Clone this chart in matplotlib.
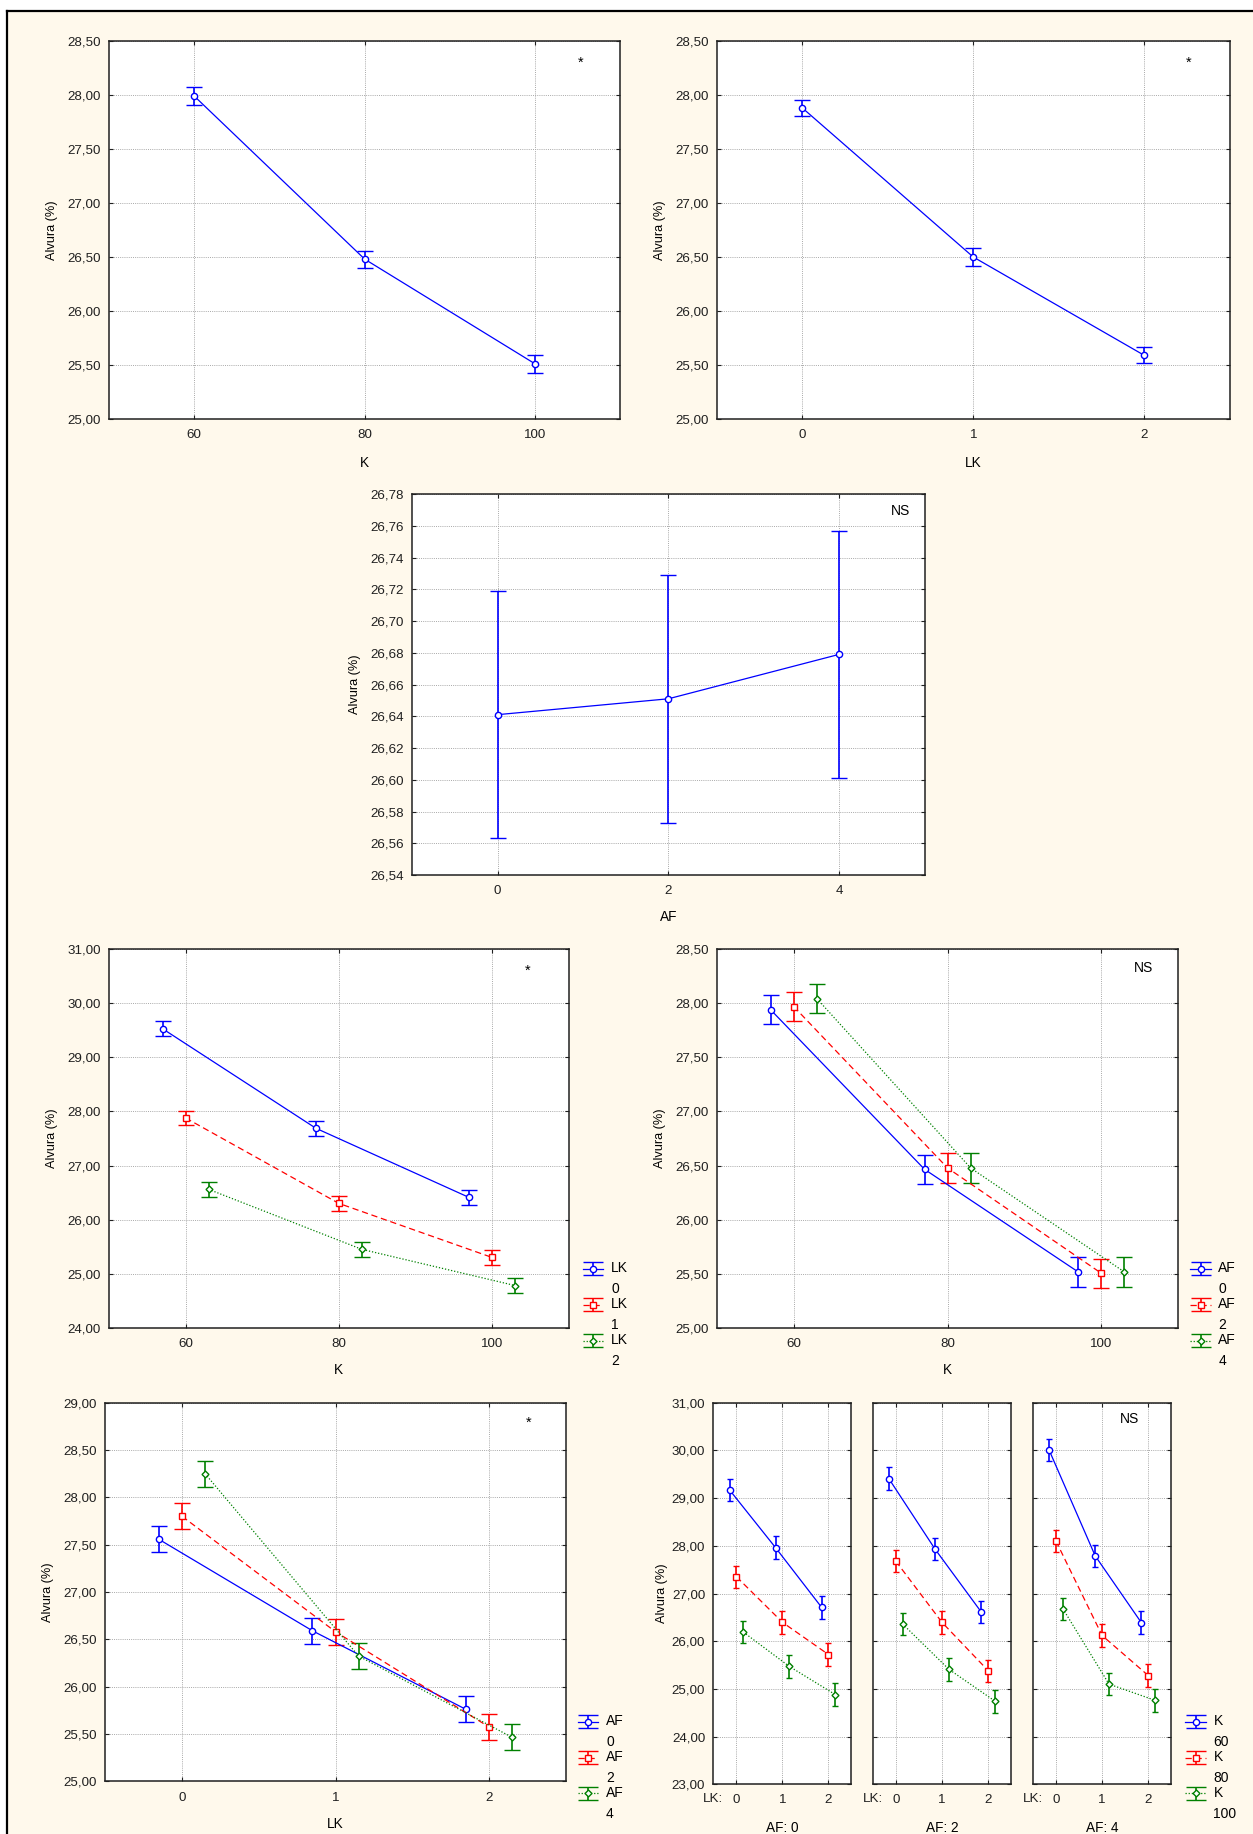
import numpy as np
import matplotlib
matplotlib.use("Agg")
import matplotlib.pyplot as plt
from matplotlib.lines import Line2D
from matplotlib.patches import Rectangle
from matplotlib.ticker import FuncFormatter
from matplotlib.legend_handler import HandlerErrorbar

plt.rcParams["font.family"] = ["Liberation Sans", "DejaVu Sans"]

# ---------------- data ----------------
k_levels = [60, 80, 100]
lk_levels = [0, 1, 2]
af_levels = [0, 2, 4]

# main effects: mean whiteness and half-width of the interval
mean_by_k = [27.99, 26.48, 25.51]
err_by_k = [0.08, 0.08, 0.08]
mean_by_lk = [27.88, 26.50, 25.59]
err_by_lk = [0.075, 0.08, 0.075]
mean_by_af = [26.641, 26.651, 26.679]
err_by_af = [0.078, 0.078, 0.078]

# K x LK interaction (rows: LK 0, 1, 2; columns: K 60, 80, 100)
k_by_lk = [[29.53, 27.69, 26.41],
           [27.88, 26.30, 25.30],
           [26.56, 25.45, 24.78]]
err_k_by_lk = 0.135

# K x AF interaction (rows: AF 0, 2, 4; columns: K 60, 80, 100)
k_by_af = [[27.94, 26.465, 25.515],
           [27.97, 26.477, 25.503],
           [28.044, 26.477, 25.515]]
err_k_by_af = 0.135

# LK x AF interaction (rows: AF 0, 2, 4; columns: LK 0, 1, 2)
lk_by_af = [[27.556, 26.59, 25.76],
            [27.80, 26.58, 25.574],
            [28.25, 26.324, 25.465]]
err_lk_by_af = 0.137

# K x LK x AF (per AF level; rows: K 60, 80, 100; columns: LK 0, 1, 2)
three_way_af0 = [[29.17, 27.96, 26.71],
                 [27.35, 26.395, 25.72],
                 [26.19, 25.47, 24.88]]
three_way_af2 = [[29.41, 27.93, 26.61],
                 [27.68, 26.395, 25.38],
                 [26.36, 25.41, 24.74]]
three_way_af4 = [[30.01, 27.79, 26.39],
                 [28.10, 26.12, 25.28],
                 [26.68, 25.10, 24.76]]
err_three_way = 0.235

# ---------------- styling ----------------
W, H = 1253, 1834
CREAM = "#FFF9EC"
TICK_FS = 9.6
SERIES = [
    dict(color="#0000FF", ls="-", marker="o", ms=4.5),
    dict(color="#FF0000", ls=(0, (5, 3)), marker="s", ms=4.5),
    dict(color="#008000", ls=(0, (1, 1.5)), marker="D", ms=3.5),
]

fig = plt.figure(figsize=(W / 100, H / 100), dpi=100)
fig.patch.set_facecolor("white")
fig.add_artist(Rectangle((6.5 / W, 0), 1 - 6.5 / W, 1 - 10.5 / H,
                         transform=fig.transFigure, facecolor=CREAM,
                         edgecolor="none", zorder=-10))
fig.add_artist(Line2D([6.5 / W, 1], [1 - 10.5 / H, 1 - 10.5 / H],
                      transform=fig.transFigure, color="black", lw=1.6))
fig.add_artist(Line2D([6.5 / W, 6.5 / W], [0, 1 - 10.5 / H],
                      transform=fig.transFigure, color="black", lw=1.6))


def add_ax(x0, y0, x1, y1):
    return fig.add_axes([x0 / W, 1 - y1 / H, (x1 - x0) / W, (y1 - y0) / H])


comma = FuncFormatter(lambda v, p: f"{v:.2f}".replace(".", ","))


def style(ax, xlim, xticks, ylim, yticks, ylabel_dist=None, yticklabels=True,
          xlabel=None, xlabel_dist=37):
    ax.set_facecolor("white")
    ax.set_xlim(*xlim)
    ax.set_ylim(*ylim)
    ax.set_xticks(xticks)
    ax.set_xticklabels([str(t) for t in xticks])
    ax.set_yticks(yticks)
    ax.yaxis.set_major_formatter(comma)
    if not yticklabels:
        ax.tick_params(axis="y", labelleft=False)
    ax.grid(True, color="#a9a9a9", linestyle=(0, (1, 1.2)), linewidth=0.7)
    ax.set_axisbelow(True)
    ax.tick_params(direction="in", length=3, width=0.8, top=True, right=True,
                   labelsize=TICK_FS, colors="#202020")
    ax.tick_params(axis="x", pad=7.5)
    ax.tick_params(axis="y", pad=6)
    for s in ax.spines.values():
        s.set_linewidth(1.1)
        s.set_color("#202020")
    bb = ax.get_position()
    wpx, hpx = bb.width * W, bb.height * H
    if ylabel_dist is not None:
        ax.set_ylabel("Alvura (%)", fontsize=9.2)
        ax.yaxis.set_label_coords(-(ylabel_dist - 6) / wpx, 0.5)
    if xlabel is not None:
        ax.set_xlabel(xlabel, fontsize=9.8)
        ax.xaxis.set_label_coords(0.5, -xlabel_dist / hpx)


def draw_series(ax, x, y, e, st, capsize=6, label=None):
    return ax.errorbar(x, y, yerr=e, color=st["color"], ls=st["ls"], lw=0.9,
                       marker=st["marker"], ms=st["ms"], mfc="white",
                       mec=st["color"], mew=1.0, capsize=capsize,
                       elinewidth=1.2, capthick=1.2, label=label)


class RaisedErrorbar(HandlerErrorbar):
    """Errorbar legend key lifted to line up with the first text line."""

    def __init__(self, lift, cap_len, **kw):
        super().__init__(**kw)
        self.lift = lift
        self.cap_len = cap_len

    def create_artists(self, legend, orig_handle, xdescent, ydescent, width,
                       height, fontsize, trans):
        arts = super().create_artists(legend, orig_handle, xdescent,
                                      ydescent - 2 * self.lift, width, height,
                                      fontsize, trans)
        for a in arts:
            if isinstance(a, Line2D) and a.get_marker() == "_":
                a.set_markersize(self.cap_len)
        return arts


def side_legend(ax, handles, labels, x_px, top_px):
    hm = {h: RaisedErrorbar(lift=7.5, cap_len=14, xerr_size=0.5,
                            yerr_size=0.45, numpoints=1) for h in handles}
    leg = ax.legend(handles, labels, loc="upper left",
                    bbox_to_anchor=(x_px / W, 1 - top_px / H),
                    bbox_transform=fig.transFigure, frameon=False,
                    borderpad=0, borderaxespad=0, handlelength=1.47,
                    handletextpad=0.55, labelspacing=0.1, fontsize=10,
                    handler_map=hm)
    for t in leg.get_texts():
        t.set_linespacing(1.6)
    return leg


# ---------------- panel: K ----------------
ax1 = add_ax(109, 41, 620.4, 419)
style(ax1, (50, 110), k_levels, (25.0, 28.5), np.arange(25.0, 28.51, 0.5),
      ylabel_dist=57, xlabel="K")
draw_series(ax1, k_levels, mean_by_k, err_by_k, SERIES[0])
ax1.text(105.3, 28.30, "*", ha="center", va="center", fontsize=10.5)

# ---------------- panel: LK ----------------
ax2 = add_ax(716.9, 41, 1229.6, 419)
style(ax2, (-0.5, 2.5), lk_levels, (25.0, 28.5), np.arange(25.0, 28.51, 0.5),
      ylabel_dist=57, xlabel="LK")
draw_series(ax2, lk_levels, mean_by_lk, err_by_lk, SERIES[0])
ax2.text(2.26, 28.30, "*", ha="center", va="center", fontsize=10.5)

# ---------------- panel: AF ----------------
ax3 = add_ax(412.2, 494, 924.7, 875)
style(ax3, (-1, 5), af_levels, (26.54, 26.78), np.arange(26.54, 26.781, 0.02),
      ylabel_dist=57.5, xlabel="AF", xlabel_dist=35)
draw_series(ax3, af_levels, mean_by_af, err_by_af, SERIES[0])
ax3.text(4.72, 26.769, "NS", ha="center", va="center", fontsize=10)

# ---------------- panel: K x LK ----------------
ax4 = add_ax(109, 949.3, 568.6, 1327.7)
style(ax4, (50, 110), k_levels, (24, 31), np.arange(24, 31.1, 1),
      ylabel_dist=57, xlabel="K", xlabel_dist=35)
dodge_k = [-3, 0, 3]
hs = []
for i, lk in enumerate(lk_levels):
    xs = [k + dodge_k[i] for k in k_levels]
    hs.append(draw_series(ax4, xs, k_by_lk[i], err_k_by_lk, SERIES[i]))
ax4.text(104.7, 30.6, "*", ha="center", va="center", fontsize=10.5)
side_legend(ax4, hs, [f"LK\n{v}" for v in lk_levels], 583, 1261)

# ---------------- panel: K x AF ----------------
ax5 = add_ax(716.9, 949.3, 1178.3, 1327.7)
style(ax5, (50, 110), k_levels, (25.0, 28.5), np.arange(25.0, 28.51, 0.5),
      ylabel_dist=57, xlabel="K", xlabel_dist=35)
hs = []
for i, af in enumerate(af_levels):
    xs = [k + dodge_k[i] for k in k_levels]
    hs.append(draw_series(ax5, xs, k_by_af[i], err_k_by_af, SERIES[i]))
ax5.text(105.5, 28.33, "NS", ha="center", va="center", fontsize=10)
side_legend(ax5, hs, [f"AF\n{v}" for v in af_levels], 1190.4, 1261)

# ---------------- panel: LK x AF ----------------
ax6 = add_ax(105.3, 1402.7, 565.7, 1781.3)
style(ax6, (-0.5, 2.5), lk_levels, (25.0, 29.0), np.arange(25.0, 29.01, 0.5),
      ylabel_dist=57.5, xlabel="LK", xlabel_dist=36)
dodge_lk = [-0.15, 0, 0.15]
hs = []
for i, af in enumerate(af_levels):
    xs = [l + dodge_lk[i] for l in lk_levels]
    hs.append(draw_series(ax6, xs, lk_by_af[i], err_lk_by_af, SERIES[i]))
ax6.text(2.26, 28.79, "*", ha="center", va="center", fontsize=10.5)
side_legend(ax6, hs, [f"AF\n{v}" for v in af_levels], 578, 1714)

# ---------------- panel: K x LK x AF ----------------
sub_x = [(713.5, 851.5), (872.6, 1011.4), (1032.9, 1171.3)]
blocks = [three_way_af0, three_way_af2, three_way_af4]
for j, (af, block) in enumerate(zip(af_levels, blocks)):
    ax = add_ax(sub_x[j][0], 1402.7, sub_x[j][1], 1784.3)
    style(ax, (-0.5, 2.5), lk_levels, (23, 31), np.arange(23, 31.1, 1),
          ylabel_dist=(51 if j == 0 else None), yticklabels=(j == 0),
          xlabel=f"AF: {af}", xlabel_dist=37)
    ax.tick_params(axis="x", pad=7)
    hs = []
    for i, k in enumerate(k_levels):
        xs = [l + dodge_lk[i] for l in lk_levels]
        hs.append(draw_series(ax, xs, block[i], err_three_way, SERIES[i],
                              capsize=2))
    ax.text(0.0, -15 / (1784.3 - 1402.7), "LK:", transform=ax.transAxes,
            ha="center", va="center", fontsize=TICK_FS, color="#202020")
    if j == 2:
        ax.text(1.6, 30.66, "NS", ha="center", va="center", fontsize=10)
        side_legend(ax, hs, [f"K\n{v}" for v in k_levels], 1185.4, 1714)

fig.savefig("out.png", dpi=100, facecolor=fig.get_facecolor())
